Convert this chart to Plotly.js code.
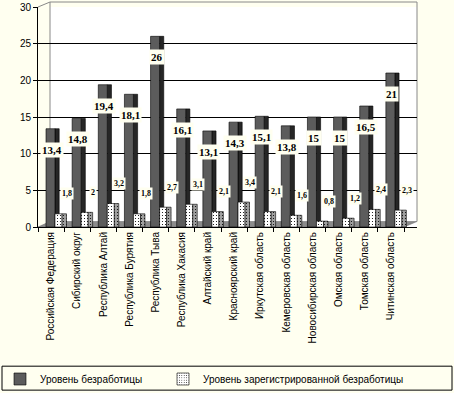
<!DOCTYPE html>
<html>
<head>
<meta charset="utf-8">
<script src="https://cdn.plot.ly/plotly-3.0.1.min.js"></script>
<style>html,body{margin:0;padding:0;background:#FFFFF0;}#chart{width:454px;height:393px;}</style>
</head>
<body>
<div id="chart"></div>
<script>
var categories = ["Российская Федерация","Сибирский округ","Республика Алтай","Республика Бурятия","Республика Тыва","Республика Хакасия","Алтайский край","Красноярский край","Иркутская область","Кемеровская область","Новосибирская область","Омская область","Томская область","Читинская область"];
var unemployment = [13.4, 14.8, 19.4, 18.1, 26, 16.1, 13.1, 14.3, 15.1, 13.8, 15, 15, 16.5, 21];
var registered = [1.8, 2, 3.2, 1.8, 2.7, 3.1, 2.1, 3.4, 2.1, 1.6, 0.8, 1.2, 2.4, 2.3];
var seriesNames = ["Уровень безработицы", "Уровень зарегистрированной безработицы"];
var yTicks = [0, 5, 10, 15, 20, 25, 30];

function fmt(v){ return String(v).replace('.', ','); }

// pixel helpers for decoration shapes (plot area: x 38..417, y 7..227.5)
function px(x){ return (x-38)/379; }
function py(y){ return (227.5-y)/220.5; }

var traces = [
  {type:'bar', x:categories, y:unemployment, offset:0.15, width:0.16, showlegend:false, hoverinfo:'skip',
   marker:{color:'#262626', line:{color:'#000', width:0.6}}},
  {type:'bar', x:categories, y:unemployment, name:seriesNames[0], offset:-0.194, width:0.344, legend:'legend',
   marker:{color:'#5c5c5c', line:{color:'#000', width:0.6}}},
  {type:'bar', x:categories, y:registered, name:seriesNames[1], offset:0.15, width:0.27, legend:'legend2',
   marker:{color:'#ffffff', line:{color:'#000', width:0.6}, pattern:{shape:'.', fgcolor:'#000', bgcolor:'#ffffff', size:3, solidity:0.12}}},
  {type:'bar', x:categories, y:registered, offset:0.42, width:0.17, showlegend:false, hoverinfo:'skip',
   marker:{color:'#a0a0a0', line:{color:'#000', width:0.6}, pattern:{shape:'.', fgcolor:'#000', bgcolor:'#a0a0a0', size:3, solidity:0.12}}}
];

var annotations = [];
for (var i=0;i<categories.length;i++){
  annotations.push({x:categories[i], y:unemployment[i], xref:'x', yref:'y', text:'<b>'+fmt(unemployment[i])+'</b>',
    showarrow:false, yshift:-21, xshift:1, bgcolor:'#FFFFF0', borderpad:1,
    font:{family:'Liberation Serif, Times New Roman, serif', size:11, color:'#000'}});
  annotations.push({x:categories[i], y:registered[i], xref:'x', yref:'y', text:'<b>'+fmt(registered[i])+'</b>',
    showarrow:false, yshift:20, xshift:16, bgcolor:'#FFFFF0', borderpad:1,
    font:{family:'Liberation Serif, Times New Roman, serif', size:8, color:'#000'}});
}

var shapes = [
  {type:'path', xref:'paper', yref:'paper', layer:'below',
   path:'M'+px(38)+','+py(7)+' L'+px(50)+','+py(2)+' L'+px(50)+','+py(222)+' L'+px(38)+','+py(227.5)+' Z',
   fillcolor:'#FFFFF0', line:{width:0}},
  {type:'path', xref:'paper', yref:'paper', layer:'between',
   path:'M'+px(38)+','+py(227.5)+' L'+px(404)+','+py(227.5)+' L'+px(417)+','+py(222)+' L'+px(50)+','+py(222)+' Z',
   fillcolor:'#8c8c8c', line:{color:'#666', width:0.5}},
  {type:'path', xref:'paper', yref:'paper', layer:'below',
   path:'M'+px(50)+','+py(222)+' L'+px(50)+','+py(2)+' L'+px(417)+','+py(2)+' L'+px(417)+','+py(222),
   line:{color:'#888', width:1}},
  {type:'line', xref:'paper', yref:'paper', x0:px(38), y0:py(7), x1:px(50), y1:py(2), line:{color:'#888', width:1}},
  {type:'rect', xref:'paper', yref:'paper', x0:px(2), y0:py(367), x1:px(452), y1:py(391),
   line:{color:'#000', width:1}, fillcolor:'rgba(0,0,0,0)'}
];

var legFont = {family:'Liberation Sans, Arial, sans-serif', size:10, color:'#000'};
var layout = {
  width:454, height:393,
  margin:{l:38, r:37, t:7, b:165.5},
  paper_bgcolor:'#FFFFF0', plot_bgcolor:'#ffffff',
  barmode:'overlay',
  font:{family:'Liberation Sans, Arial, sans-serif', size:10, color:'#000'},
  xaxis:{type:'category', range:[-0.5, 13.997], tickson:'boundaries', ticks:'outside', ticklen:4, tickcolor:'#000',
    showline:true, linecolor:'#000', tickangle:-90, showgrid:false, fixedrange:true, automargin:false,
    tickfont:{family:'Liberation Sans, Arial, sans-serif', size:10, color:'#000'}},
  yaxis:{range:[0,30], tickvals:yTicks, ticks:'outside', ticklen:4, tickcolor:'#000', showline:true, linecolor:'#000',
    showgrid:true, gridcolor:'#000', gridwidth:1, zeroline:false, fixedrange:true, automargin:false,
    tickfont:{family:'Liberation Sans, Arial, sans-serif', size:10, color:'#000'}},
  legend:{orientation:'h', xref:'container', yref:'container', x:0, xanchor:'left', y:1-379/393, yanchor:'middle',
    bgcolor:'rgba(0,0,0,0)', font:legFont},
  legend2:{orientation:'h', xref:'container', yref:'container', x:163/454, xanchor:'left', y:1-379/393, yanchor:'middle',
    bgcolor:'rgba(0,0,0,0)', font:legFont},
  shapes:shapes,
  annotations:annotations
};

Plotly.newPlot('chart', traces, layout, {displayModeBar:false, staticPlot:true});
</script>
</body>
</html>
